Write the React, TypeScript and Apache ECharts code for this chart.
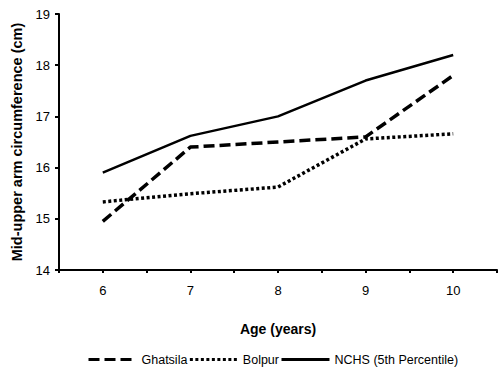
import React, { useEffect, useRef } from "react";
import * as echarts from "echarts";

const ages = [6, 7, 8, 9, 10];
const ghatsila = [14.95, 16.4, 16.5, 16.6, 17.8];
const bolpur = [15.33, 15.49, 15.62, 16.56, 16.66];
const nchs = [15.9, 16.62, 17.0, 17.7, 18.2];
const seriesNames = ["Ghatsila", "Bolpur", "NCHS (5th Percentile)"];

const FONT = "'Liberation Sans', Arial, sans-serif";

export default function App() {
  const ref = useRef<HTMLDivElement>(null);
  useEffect(() => {
    document.body.style.margin = "0";
    const chart = echarts.init(ref.current!, null, { renderer: "svg" });
    const pair = (arr: number[]) => ages.map((a, i) => [a, arr[i]]);
    chart.setOption({
      animation: false,
      backgroundColor: "#ffffff",
      textStyle: { fontFamily: FONT, color: "#000" },
      grid: { left: 59, top: 14, right: 0, bottom: 103 },
      legend: {
        bottom: 2,
        left: 82,
        itemGap: 1,
        itemWidth: 48,
        itemHeight: 6,
        itemStyle: { opacity: 0 },
        lineStyle: { width: 3 },
        textStyle: { fontFamily: FONT, fontSize: 12.5, color: "#000" },
        data: seriesNames,
      },
      xAxis: {
        type: "value",
        min: 5.5,
        max: 10.5,
        interval: 0.5,
        name: "Age (years)",
        nameLocation: "middle",
        nameGap: 52,
        nameTextStyle: { fontFamily: FONT, fontSize: 14, fontWeight: "bold", color: "#000" },
        axisLine: { lineStyle: { color: "#000", width: 2 } },
        axisTick: { show: true, length: 3, lineStyle: { color: "#000", width: 2 } },
        axisLabel: {
          color: "#000",
          fontSize: 13,
          fontFamily: FONT,
          margin: 14,
          formatter: (v: number) => (Number.isInteger(v) ? String(v) : ""),
        },
        splitLine: { show: false },
      },
      yAxis: {
        type: "value",
        min: 14,
        max: 19,
        interval: 1,
        name: "Mid-upper arm circumference (cm)",
        nameLocation: "middle",
        nameGap: 34,
        nameTextStyle: { fontFamily: FONT, fontSize: 14.5, fontWeight: "bold", color: "#000" },
        axisLine: { show: true, lineStyle: { color: "#000", width: 2 } },
        axisTick: { show: true, length: 4, lineStyle: { color: "#000", width: 2 } },
        axisLabel: { color: "#000", fontSize: 13, fontFamily: FONT, margin: 9 },
        splitLine: { show: false },
      },
      series: [
        {
          name: seriesNames[0],
          type: "line",
          data: pair(ghatsila),
          symbol: "none",
          lineStyle: { color: "#000", width: 3.5, type: [11, 5] },
          itemStyle: { color: "#000" },
        },
        {
          name: seriesNames[1],
          type: "line",
          data: pair(bolpur),
          symbol: "none",
          lineStyle: { color: "#000", width: 3.5, type: [3, 2.5] },
          itemStyle: { color: "#000" },
        },
        {
          name: seriesNames[2],
          type: "line",
          data: pair(nchs),
          symbol: "none",
          lineStyle: { color: "#000", width: 2.5, type: "solid" },
          itemStyle: { color: "#000" },
        },
      ],
    });
    return () => chart.dispose();
  }, []);
  return <div ref={ref} style={{ width: 500, height: 373 }} />;
}
